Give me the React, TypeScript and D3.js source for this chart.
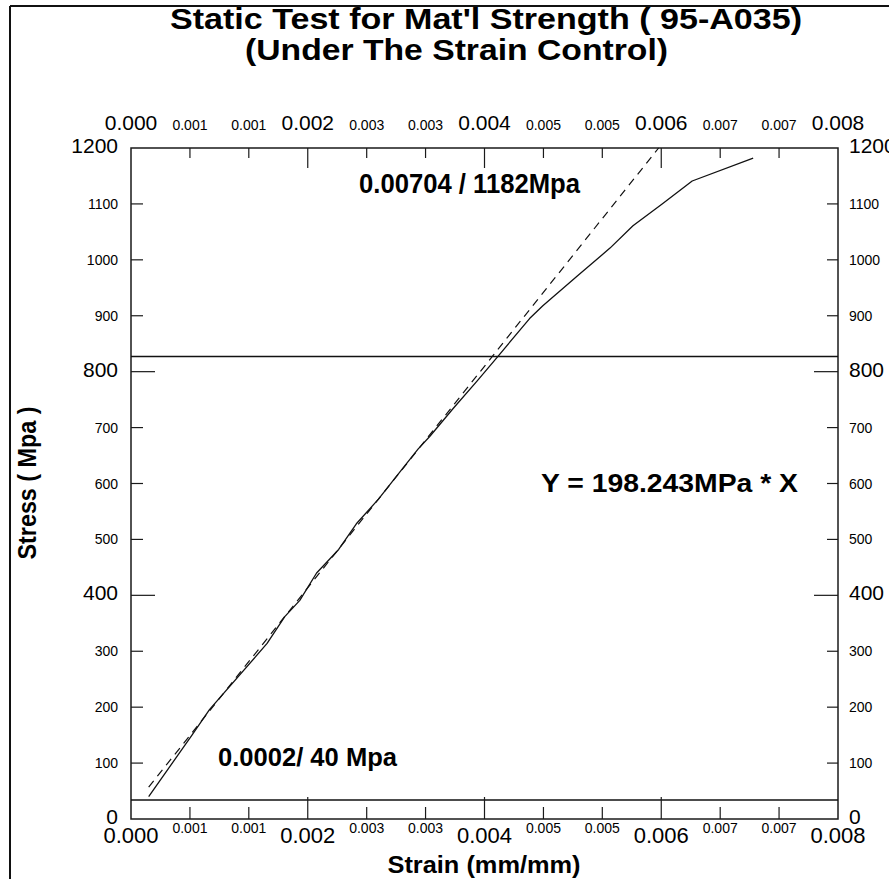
import React from 'react';
import * as d3 from 'd3';

// ---------- data ----------
const strainTicks = [0, 0.000667, 0.001333, 0.002, 0.002667, 0.003333, 0.004, 0.004667, 0.005333, 0.006, 0.006667, 0.007333, 0.008];
const strainTickLabels = ['0.000', '0.001', '0.001', '0.002', '0.003', '0.003', '0.004', '0.005', '0.005', '0.006', '0.007', '0.007', '0.008'];
const stressTicks = [0, 100, 200, 300, 400, 500, 600, 700, 800, 900, 1000, 1100, 1200];
const stressTickLabels = ['0', '100', '200', '300', '400', '500', '600', '700', '800', '900', '1000', '1100', '1200'];

const curveStrain = [0.0002, 0.00069, 0.00089, 0.00154, 0.00174, 0.00191, 0.0021, 0.00235, 0.00255, 0.0028, 0.00305, 0.00325, 0.00338, 0.00365, 0.00392, 0.00415, 0.00451, 0.00466, 0.00505, 0.00542, 0.00568, 0.00601, 0.00635, 0.00704];
const curveStress = [40, 150, 196, 314, 362, 391, 440, 482, 528, 572, 622, 662, 684, 735, 784, 827, 895, 918, 971, 1021, 1061, 1100, 1141, 1182];

const fitStrain = [0.0002, 0.00597];
const fitStress = [57, 1200];

const refLineStress = [34, 827];

const title1 = "Static Test for Mat'l Strength ( 95-A035)";
const title2 = '(Under The Strain Control)';
const xTitle = 'Strain (mm/mm)';
const yTitle = 'Stress ( Mpa )';
const noteTop = '0.00704 / 1182Mpa';
const noteBottom = '0.0002/ 40 Mpa';
const noteFit = 'Y = 198.243MPa * X';

// ---------- layout ----------
const W = 889;
const H = 879;
const L = 131, R = 838, T = 148, B = 819;
const FONT = "'Liberation Sans', Arial, Helvetica, sans-serif";

export default function App() {
  const x = d3.scaleLinear().domain([0, 0.008]).range([L, R]);
  const y = d3.scaleLinear().domain([0, 1200]).range([B, T]);

  const curve = curveStrain.map((s, i) => [s, curveStress[i]] as [number, number]);
  const fit = fitStrain.map((s, i) => [s, fitStress[i]] as [number, number]);
  const line = d3.line<[number, number]>().x(d => x(d[0])).y(d => y(d[1]));

  const axisColor = '#1a1a1a';

  return (
    <svg width={W} height={H} style={{ position: 'absolute', left: 0, top: 0, background: '#fff' }} fontFamily={FONT}>
      <rect x={0} y={0} width={W} height={H} fill="#fff" />
      {/* frame */}
      <line x1={10} y1={6} x2={W} y2={6} stroke="#111" strokeWidth={2} />
      <line x1={10} y1={6} x2={10} y2={H} stroke="#111" strokeWidth={2} />

      {/* titles */}
      <text x={170} y={29} fontSize={30} fontWeight="bold" textLength={632} lengthAdjust="spacingAndGlyphs">{title1}</text>
      <text x={245} y={60} fontSize={30} fontWeight="bold" textLength={423} lengthAdjust="spacingAndGlyphs">{title2}</text>

      {/* plot box */}
      <rect x={L} y={T} width={R - L} height={B - T} fill="none" stroke={axisColor} strokeWidth={1.5} />

      {/* reference horizontal lines */}
      {refLineStress.map((v, i) => (
        <line key={'ref' + i} x1={L} x2={R} y1={y(v)} y2={y(v)} stroke="#111" strokeWidth={1.4} />
      ))}

      {/* x ticks top & bottom */}
      {strainTicks.map((v, i) => {
        const major = i % 3 === 0;
        const px = x(v);
        return (
          <g key={'xt' + i}>
            {i > 0 && i < strainTicks.length - 1 && (
              <>
                <line x1={px} x2={px} y1={T} y2={T + (major ? 20 : 10)} stroke={axisColor} strokeWidth={1.2} />
                <line x1={px} x2={px} y1={B} y2={B - (major ? 22 : 12)} stroke={axisColor} strokeWidth={1.2} />
              </>
            )}
            <text x={px} y={130} textAnchor="middle" fontSize={major ? 21 : 14}>{strainTickLabels[i]}</text>
            <text x={px} y={major ? 843 : 833} textAnchor="middle" fontSize={major ? 22 : 14}>{strainTickLabels[i]}</text>
          </g>
        );
      })}

      {/* y ticks left & right */}
      {stressTicks.map((v, i) => {
        const major = v % 400 === 0;
        const py = y(v);
        return (
          <g key={'yt' + i}>
            {i > 0 && i < stressTicks.length - 1 && (
              <>
                <line x1={L} x2={L + (major ? 24 : 12)} y1={py} y2={py} stroke={axisColor} strokeWidth={1.2} />
                <line x1={R} x2={R - (major ? 24 : 11)} y1={py} y2={py} stroke={axisColor} strokeWidth={1.2} />
              </>
            )}
            <text x={118} y={py} dy={major ? 5 : 5} textAnchor="end" fontSize={major ? 21 : 14}>{stressTickLabels[i]}</text>
            <text x={849} y={py} dy={major ? 5 : 5} textAnchor="start" fontSize={major ? 21 : 14}>{stressTickLabels[i]}</text>
          </g>
        );
      })}

      {/* fit line (dashed) */}
      <path d={line(fit) || ''} fill="none" stroke="#111" strokeWidth={1.2} strokeDasharray="8 6" />
      {/* measured curve */}
      <path d={line(curve) || ''} fill="none" stroke="#111" strokeWidth={1.3} strokeLinejoin="round" />

      {/* annotations */}
      <text x={359} y={193} fontSize={27} fontWeight="bold" textLength={221} lengthAdjust="spacingAndGlyphs">{noteTop}</text>
      <text x={218} y={766} fontSize={26} fontWeight="bold" textLength={179} lengthAdjust="spacingAndGlyphs">{noteBottom}</text>
      <text x={541} y={492} fontSize={26} fontWeight="bold" textLength={257} lengthAdjust="spacingAndGlyphs">{noteFit}</text>

      {/* axis titles */}
      <text x={484} y={873} textAnchor="middle" fontSize={24} fontWeight="bold" textLength={193} lengthAdjust="spacingAndGlyphs">{xTitle}</text>
      <text transform="translate(36,483) rotate(-90)" textAnchor="middle" fontSize={25} fontWeight="bold" textLength={153} lengthAdjust="spacingAndGlyphs">{yTitle}</text>
    </svg>
  );
}
